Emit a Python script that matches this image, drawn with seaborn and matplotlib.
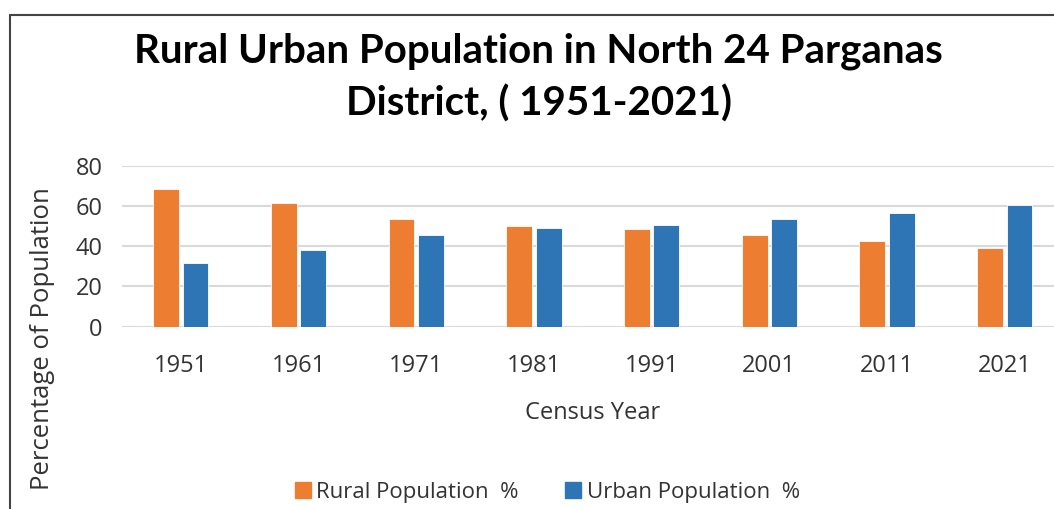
import matplotlib
matplotlib.use("Agg")
import matplotlib.pyplot as plt
from matplotlib.lines import Line2D
import seaborn as sns
import pandas as pd

# ---------------------------------------------------------------------------
# Data
# ---------------------------------------------------------------------------
years = ['1951', '1961', '1971', '1981', '1991', '2001', '2011', '2021']
rural_pct = [68.4, 61.7, 53.6, 50.0, 48.5, 45.5, 42.7, 38.9]
urban_pct = [31.5, 38.1, 45.5, 49.1, 50.6, 53.6, 56.6, 60.4]
series_names = ['Rural Population  %', 'Urban Population  %']
y_ticks = [0, 20, 40, 60, 80]

ORANGE = '#ED7D31'
BLUE = '#2E75B6'
GRID = '#D9D9D9'
TEXT = '#333333'

df = pd.DataFrame({
    'Census Year': years * 2,
    'Percentage': rural_pct + urban_pct,
    'Series': [series_names[0]] * len(years) + [series_names[1]] * len(years),
})

sns.set_theme(style='white')
plt.rcParams['font.family'] = ['Open Sans', 'DejaVu Sans']

fig = plt.figure(figsize=(10.54, 5.09), dpi=100)
ax = fig.add_axes([0.1157, 0.3582, 0.8934, 0.3163])

sns.barplot(data=df, x='Census Year', y='Percentage', hue='Series',
            palette=[ORANGE, BLUE], saturation=1, width=0.5, gap=0.12,
            edgecolor='white', linewidth=0.6, legend=False, ax=ax)

ax.set_ylim(0, 80)
ax.set_xlim(-0.5, len(years) - 0.5)
ax.set_yticks(y_ticks)
ax.set_yticklabels([str(t) for t in y_ticks], fontsize=17, color=TEXT)
ax.set_xticklabels(years, fontsize=17, color=TEXT)
ax.tick_params(axis='both', length=0)
ax.tick_params(axis='y', pad=14)
ax.tick_params(axis='x', pad=20)
ax.yaxis.grid(True, color=GRID, linewidth=1.5)
ax.set_axisbelow(True)
for s in ax.spines.values():
    s.set_visible(False)

ax.set_xlabel('Census Year', fontsize=17, color=TEXT, labelpad=16)
ax.set_ylabel('')
fig.text(0.040, 0.335, 'Percentage of Population', rotation=90,
         ha='center', va='center', fontsize=18.5, color=TEXT)

fig.text(0.511, 0.900, 'Rural Urban Population in North 24 Parganas',
         ha='center', va='center', fontsize=29, fontweight='bold',
         family=['Lato', 'DejaVu Sans'], color='black')
fig.text(0.511, 0.797, 'District, ( 1951-2021)',
         ha='center', va='center', fontsize=29, fontweight='bold',
         family=['Lato', 'DejaVu Sans'], color='black')

handles = [Line2D([0], [0], marker='s', linestyle='', markersize=11,
                  markerfacecolor=c, markeredgecolor=c)
           for c in (ORANGE, BLUE)]
fig.legend(handles, series_names, loc='center', ncol=2,
           bbox_to_anchor=(0.5185, 0.033), frameon=False, fontsize=16,
           handlelength=0.9, handletextpad=0.15, columnspacing=2.0,
           labelcolor=TEXT)

# outer chart border (cropped on right and bottom)
fig.add_artist(Line2D([10 / 1054, 1.0], [1 - 15 / 509] * 2,
                      transform=fig.transFigure, color='#444444', linewidth=1.5))
fig.add_artist(Line2D([10 / 1054] * 2, [0.0, 1 - 15 / 509],
                      transform=fig.transFigure, color='#444444', linewidth=1.5))

fig.savefig('out.png', dpi=100)
